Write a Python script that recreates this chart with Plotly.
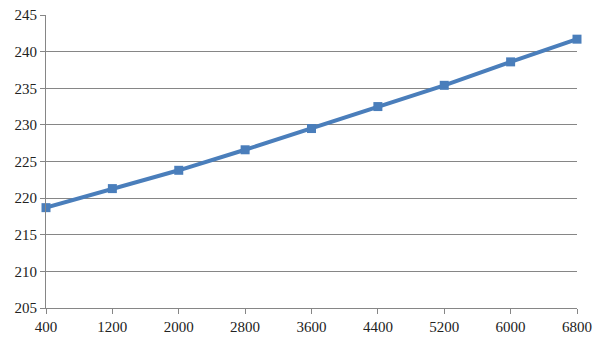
import plotly.graph_objects as go

x_vals = [400, 1200, 2000, 2800, 3600, 4400, 5200, 6000, 6800]
y_vals = [218.7, 221.3, 223.8, 226.6, 229.5, 232.5, 235.4, 238.6, 241.7]
y_ticks = [205, 210, 215, 220, 225, 230, 235, 240, 245]

fig = go.Figure()
fig.add_trace(go.Scatter(
    x=x_vals, y=y_vals, mode="lines+markers",
    line=dict(color="#4A7EBB", width=4),
    marker=dict(symbol="square", size=9, color="#4A7EBB"),
    showlegend=False, cliponaxis=False,
))

font = dict(family="Liberation Serif, Times New Roman, serif", size=15, color="#222222")
fig.update_layout(
    width=605, height=340,
    margin=dict(l=46, r=28, t=15, b=32),
    paper_bgcolor="white", plot_bgcolor="white",
    font=font,
    xaxis=dict(
        range=[400, 6800], tickvals=x_vals, ticktext=[str(v) for v in x_vals],
        showgrid=False, zeroline=False, automargin=False,
        showline=True, linecolor="#868686", linewidth=1,
        ticks="outside", ticklen=5, tickcolor="#868686",
        tickfont=font,
    ),
    yaxis=dict(
        range=[205, 245], tickvals=y_ticks,
        showgrid=True, gridcolor="#868686", gridwidth=1,
        zeroline=False, automargin=False,
        showline=True, linecolor="#868686", linewidth=1,
        ticks="outside", ticklen=5, tickcolor="#868686",
        tickfont=font,
    ),
)
fig.write_html("out.html")
